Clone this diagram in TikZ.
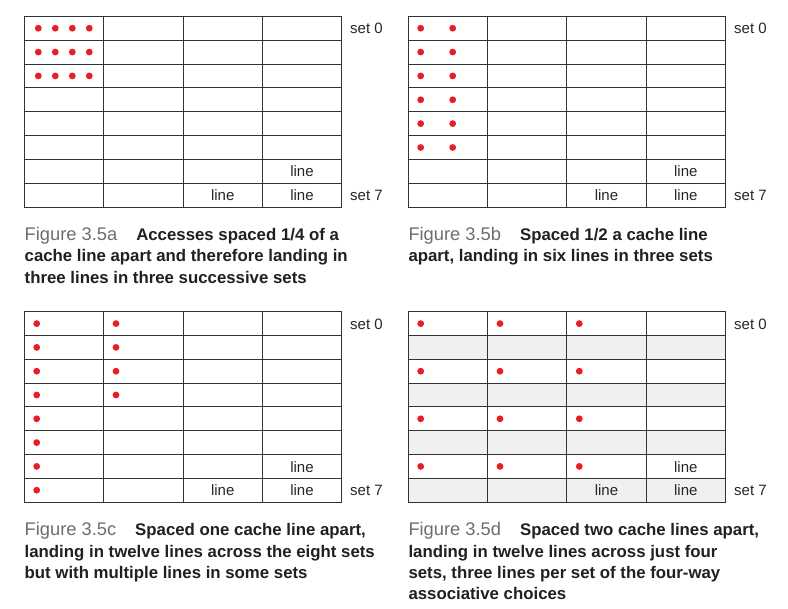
\documentclass[tikz,border=0pt]{standalone}
\usepackage{fontspec}
\setmainfont{Liberation Sans}
\definecolor{dotred}{HTML}{EC1C24}
\definecolor{gridc}{HTML}{333333}
\definecolor{rowshade}{HTML}{EFF0EF}
\definecolor{figgray}{HTML}{6D6E71}
\definecolor{captxt}{HTML}{231F20}
\newcommand\cachegrid[3]{% x0, y0, row height
  \foreach \i in {1,...,7} \draw[gridline] (#1,{#2+\i*#3}) -- ++(317.2,0);
  \foreach \j in {1,2,3} \draw[gridline] ({#1+\j*79.3},#2) -- ++(0,{8*#3});
  \draw[gridline] (#1,#2) rectangle ++(317.2,{8*#3});
}
\tikzset{
  gridline/.style={draw=gridc, line width=0.9pt},
  dot/.style={fill=dotred},
  setlbl/.style={anchor=base west, inner sep=0pt, font=\fontsize{15}{18}\selectfont, text=black!85},
  celltxt/.style={anchor=base, inner sep=0pt, font=\fontsize{15}{18}\selectfont, text=black!85},
  capline/.style={anchor=base west, inner sep=0pt, font=\fontsize{16.8}{20}\selectfont\bfseries, text=captxt},
}
\newcommand\fignum[1]{{\color{figgray}\fontsize{18.3}{20}\mdseries\selectfont #1}}
\begin{document}
\begin{tikzpicture}[x=1pt,y=-1pt]
\useasboundingbox (0,0) rectangle (788,609);
\fill[white] (0,0) rectangle (788,609);

% ---------- grid a ----------
\cachegrid{24.5}{16.3}{23.85}
\foreach \r in {0,1,2} \foreach \k in {0,1,2,3}
  \fill[dot] ({38.3+17*\k},{16.3+23.85*(\r+0.5)}) circle (3.4pt);
\node[setlbl] (a-set0) at (350,34) {set 0};
\node[setlbl] (a-set7) at (350,201) {set 7};
\node[celltxt] (a-l1) at (302,177) {line};
\node[celltxt] (a-l2) at (222.7,201) {line};
\node[celltxt] (a-l3) at (302,201) {line};
\node[capline] (cap-a1) at (24.5,240.5) {\fignum{Figure 3.5a}\hspace{19pt}Accesses spaced 1/4 of a};
\node[capline] (cap-a2) at (24.5,262) {cache line apart and therefore landing in};
\node[capline] (cap-a3) at (24.5,283.5) {three lines in three successive sets};

% ---------- grid b ----------
\cachegrid{408.3}{16.3}{23.85}
\foreach \r in {0,...,5} \foreach \k in {0,1}
  \fill[dot] ({420.7+32*\k},{16.3+23.85*(\r+0.5)}) circle (3.4pt);
\node[setlbl] (b-set0) at (734,34) {set 0};
\node[setlbl] (b-set7) at (734,201) {set 7};
\node[celltxt] (b-l1) at (685.8,177) {line};
\node[celltxt] (b-l2) at (606.5,201) {line};
\node[celltxt] (b-l3) at (685.8,201) {line};
\node[capline] (cap-b1) at (408.3,240.7) {\fignum{Figure 3.5b}\hspace{19pt}Spaced 1/2 a cache line};
\node[capline] (cap-b2) at (408.3,261.7) {apart, landing in six lines in three sets};

% ---------- grid c ----------
\cachegrid{24.5}{311.7}{23.8}
\foreach \r in {0,...,7}
  \fill[dot] (36.7,{311.7+23.8*(\r+0.5)}) circle (3.4pt);
\foreach \r in {0,...,3}
  \fill[dot] (116,{311.7+23.8*(\r+0.5)}) circle (3.4pt);
\node[setlbl] (c-set0) at (350,329.5) {set 0};
\node[setlbl] (c-set7) at (350,496) {set 7};
\node[celltxt] (c-l1) at (302,472.3) {line};
\node[celltxt] (c-l2) at (222.7,496) {line};
\node[celltxt] (c-l3) at (302,496) {line};
\node[capline] (cap-c1) at (24.5,535.7) {\fignum{Figure 3.5c}\hspace{19pt}Spaced one cache line apart,};
\node[capline] (cap-c2) at (24.5,557.3) {landing in twelve lines across the eight sets};
\node[capline] (cap-c3) at (24.5,578.3) {but with multiple lines in some sets};

% ---------- grid d ----------
\foreach \r in {1,3,5,7}
  \fill[rowshade] (408.3,{311.7+23.8*\r}) rectangle ++(317.2,23.8);
\cachegrid{408.3}{311.7}{23.8}
\foreach \r in {0,2,4,6} \foreach \k in {0,1,2}
  \fill[dot] ({420.7+79.3*\k},{311.7+23.8*(\r+0.5)}) circle (3.4pt);
\node[setlbl] (d-set0) at (734,329.5) {set 0};
\node[setlbl] (d-set7) at (734,496) {set 7};
\node[celltxt] (d-l1) at (685.8,472.3) {line};
\node[celltxt] (d-l2) at (606.5,496) {line};
\node[celltxt] (d-l3) at (685.8,496) {line};
\node[capline] (cap-d1) at (408.3,536) {\fignum{Figure 3.5d}\hspace{19pt}Spaced two cache lines apart,};
\node[capline] (cap-d2) at (408.3,557.3) {landing in twelve lines across just four};
\node[capline] (cap-d3) at (408.3,578.7) {sets, three lines per set of the four-way};
\node[capline] (cap-d4) at (408.3,600) {associative choices};
\end{tikzpicture}
\end{document}
